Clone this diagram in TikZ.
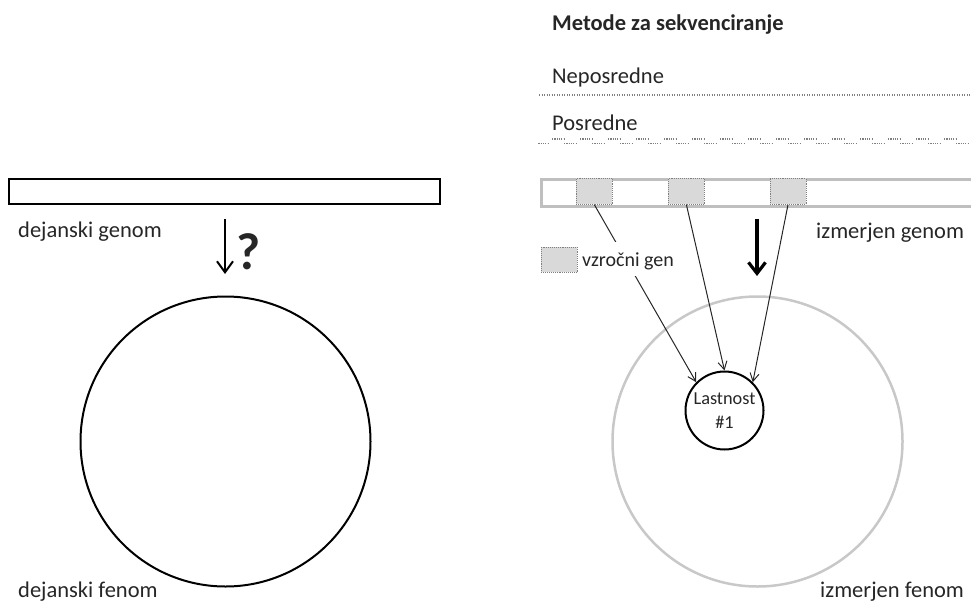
\documentclass[tikz,border=0pt]{standalone}
\usepackage{fontspec}
\setmainfont{Carlito}
\usetikzlibrary{arrows.meta}
\definecolor{boxgray}{HTML}{D9D9D9}
\definecolor{framegray}{HTML}{BFBFBF}
\definecolor{ringgray}{HTML}{C8C8C8}
\definecolor{dotgray}{HTML}{7F7F7F}
\definecolor{inkdark}{HTML}{262626}
\begin{document}
\begin{tikzpicture}[x=1pt,y=-1pt,
  font=\fontsize{22.5}{26}\selectfont, text=inkdark,
  lbl/.style={inner sep=0pt, anchor=base west},
  genebox/.style={draw=dotgray, densely dotted, line width=0.9pt, fill=boxgray,
    minimum width=36pt, minimum height=26pt, inner sep=0pt, anchor=north west},
  dotdash/.style={dotgray, line width=1.1pt,
    dash pattern=on 1.2pt off 1.1pt on 1.2pt off 1.1pt on 1.2pt off 1.1pt on 1.2pt off 1.1pt on 1.2pt off 1.1pt on 1.2pt off 15.3pt},
  bigarrow/.style={line width=3.2pt, -{Straight Barb[length=11pt,width=17pt,line width=3.2pt]}},
  smallarrow/.style={line width=2pt, -{Straight Barb[length=11pt,width=16pt,line width=2pt]}},
  causal/.style={draw=inkdark, line width=1pt, -{Straight Barb[length=8pt,width=9pt,line width=1pt]}}]
\useasboundingbox (0,0) rectangle (971,602);

% ---------- left: true genome and phenome ----------
\node[draw=black, line width=2pt, minimum width=431pt, minimum height=25pt,
      inner sep=0pt, anchor=north west] (lgenome) at (8,178) {};
\node[lbl] (lgtext) at (18,237) {dejanski genom};
\coordinate (la1) at (225,219);
\coordinate (la2) at (225,274);
\draw[smallarrow] (la1) -- (la2);
\node[font=\fontsize{52}{56}\selectfont\bfseries, inner sep=0pt] (qmark) at (248.5,252) {?};
\node[circle, draw=black, line width=2pt, minimum size=290pt, inner sep=0pt] (lphen) at (225.5,441.5) {};
\node[lbl] (lftext) at (18,597) {dejanski fenom};

% ---------- right: sequencing methods ----------
\node[lbl, font=\fontsize{22.5}{26}\selectfont\bfseries] (title) at (552,31) {Metode za sekvenciranje};
\node[lbl] (direct) at (552,83) {Neposredne};
\coordinate (d1) at (539,95);
\coordinate (d2) at (971,95);
\draw[dotgray, line width=1.1pt, dash pattern=on 1.2pt off 1.3pt] (d1) -- (d2);
\node[lbl] (indirect) at (552,130) {Posredne};
\coordinate (p1) at (552,139);
\coordinate (p2) at (971,139);
\coordinate (q1) at (538,143.5);
\coordinate (q2) at (971,143.5);
\draw[dotdash] (p1) -- (p2);
\draw[dotdash, dash phase=2pt] (q1) -- (q2);

% ---------- right: measured genome ----------
\node[draw=framegray, line width=3pt, minimum width=450pt, minimum height=27pt,
      inner sep=0pt, anchor=north west] (rgenome) at (540,177.5) {};
\node[genebox] (g1) at (576,178) {};
\node[genebox] (g2) at (668,178) {};
\node[genebox] (g3) at (769.5,178) {};
\node[lbl] (rgtext) at (816,238) {izmerjen genom};
\coordinate (ra1) at (757,219);
\coordinate (ra2) at (757,276);
\draw[bigarrow] (ra1) -- (ra2);

% ---------- right: measured phenome ----------
\node[circle, draw=ringgray, line width=2.5pt, minimum size=290pt, inner sep=0pt] (rphen) at (757.5,441.5) {};
\node[circle, draw=black, line width=2pt, fill=white, minimum size=78pt, inner sep=0pt,
      align=center, font=\fontsize{18.3}{24}\selectfont] (trait) at (724.5,410.5) {Lastnost\\\#1};

\draw[causal] (g1.south) -- (trait.135);
\draw[causal] (g2.south) -- (trait.90);
\draw[causal] (g3.south) -- (trait.45);

% legend for the causal gene boxes
\node[fill=white, minimum width=115pt, minimum height=34pt, inner sep=0pt, anchor=north west] (legbg) at (567,242) {};
\node[genebox, minimum height=25pt] (legbox) at (541,247) {};
\node[lbl, font=\fontsize{20}{24}\selectfont] (legtext) at (582,266) {vzročni gen};

\node[lbl] (rftext) at (820,597) {izmerjen fenom};
\end{tikzpicture}
\end{document}
